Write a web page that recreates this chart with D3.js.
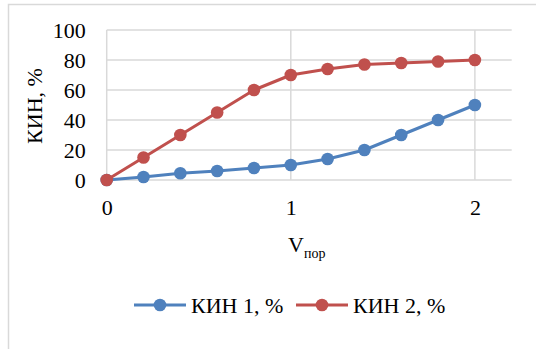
<!DOCTYPE html>
<html><head><meta charset="utf-8">
<script src="https://cdn.jsdelivr.net/npm/d3@7"></script>
<style>body{margin:0;background:#fff;overflow:hidden}svg{display:block}
text{font-family:"Liberation Serif","Times New Roman",serif;fill:#000}</style>
</head><body>
<script>
const xValues = [0, 0.2, 0.4, 0.6, 0.8, 1.0, 1.2, 1.4, 1.6, 1.8, 2.0];
const kin1 = [0, 2, 4.5, 6, 8, 10, 14, 20, 30, 40, 50];
const kin2 = [0, 15, 30, 45, 60, 70, 74, 77, 78, 79, 80];
const seriesNames = ["КИН 1, %", "КИН 2, %"];
const xTicks = [0, 1, 2];
const yTicks = [0, 20, 40, 60, 80, 100];

const W = 536, H = 349;
const svg = d3.select("body").append("svg").attr("width", W).attr("height", H);

// chart frame
svg.append("path").attr("d", "M8.5,349 V4.5 H536").attr("fill", "none").attr("stroke", "#d9d9d9").attr("stroke-width", 1.5);

const x = d3.scaleLinear().domain([0, 2.2]).range([106.7, 511.7]);
const y = d3.scaleLinear().domain([0, 100]).range([180, 30]);

const g = svg.append("g");
g.selectAll(".hg").data(yTicks).join("line")
  .attr("x1", x(0)).attr("x2", x(2.2)).attr("y1", d => y(d)).attr("y2", d => y(d))
  .attr("stroke", "#d9d9d9").attr("stroke-width", 1.5);
g.selectAll(".vg").data(xTicks).join("line")
  .attr("x1", d => x(d)).attr("x2", d => x(d)).attr("y1", y(0)).attr("y2", y(100))
  .attr("stroke", "#d9d9d9").attr("stroke-width", 1.5);

const yAxis = svg.append("g").attr("transform", `translate(${x(0) - 21},0)`)
  .call(d3.axisLeft(y).tickValues(yTicks).tickSize(0).tickPadding(0));
yAxis.select(".domain").remove();
yAxis.attr("font-family", null).attr("font-size", null);
yAxis.selectAll("text").style("font-size", "22px").attr("fill", "#000").attr("dy", "0.33em");

const xAxis = svg.append("g").attr("transform", `translate(0,${y(0) + 19})`)
  .call(d3.axisBottom(x).tickValues(xTicks).tickFormat(d3.format("d")).tickSize(0).tickPadding(0));
xAxis.select(".domain").remove();
xAxis.attr("font-family", null).attr("font-size", null);
xAxis.selectAll("text").style("font-size", "22px").attr("fill", "#000").attr("dy", "0.71em");

svg.append("text").attr("transform", "translate(42,106) rotate(-90)")
  .attr("text-anchor", "middle").style("font-size", "22px")
  .text("КИН, %");
const xt = svg.append("text").attr("x", 288).attr("y", 252).style("font-size", "22px");
xt.append("tspan").text("V");
xt.append("tspan").attr("dy", 6).style("font-size", "14px").text("пор");

const colors = ["#4F81BD", "#C0504D"];
const series = [kin1, kin2];
const line = d3.line().x((d, i) => x(xValues[i])).y(d => y(d));
series.forEach((s, k) => {
  svg.append("path").datum(s).attr("d", line).attr("fill", "none")
    .attr("stroke", colors[k]).attr("stroke-width", 3).attr("stroke-linejoin", "round");
  svg.selectAll(".m" + k).data(s).join("circle")
    .attr("cx", (d, i) => x(xValues[i])).attr("cy", d => y(d)).attr("r", 6.3).attr("fill", colors[k]);
});

const legX = [134, 296];
series.forEach((s, k) => {
  const lg = svg.append("g").attr("transform", `translate(${legX[k]},305)`);
  lg.append("line").attr("x1", 0).attr("x2", 52).attr("stroke", colors[k]).attr("stroke-width", 3);
  lg.append("circle").attr("cx", 26).attr("r", 6.3).attr("fill", colors[k]);
  lg.append("text").attr("x", 57).attr("y", 0).attr("dy", "0.35em").style("font-size", "22px").text(seriesNames[k]);
});
</script>
</body></html>
